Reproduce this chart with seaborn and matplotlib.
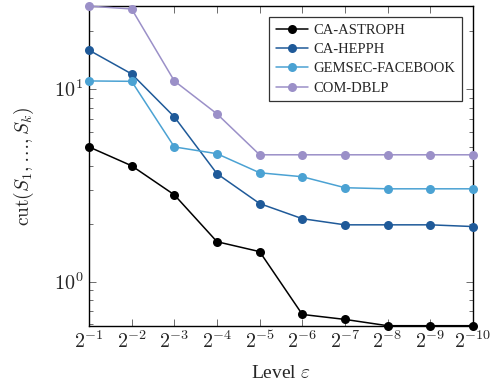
import numpy as np
import pandas as pd
import matplotlib
matplotlib.use("Agg")
import matplotlib.pyplot as plt
import seaborn as sns
from matplotlib.ticker import LogLocator, NullFormatter, FixedLocator

# data
levels = [1, 2, 3, 4, 5, 6, 7, 8, 9, 10]          # eps = 2^-k
astroph = [5.0, 3.99, 2.82, 1.61, 1.43, 0.675, 0.636, 0.59, 0.59, 0.59]
hepph = [15.9, 11.96, 7.16, 3.63, 2.54, 2.12, 1.97, 1.97, 1.97, 1.93]
facebook = [11.0, 10.95, 5.0, 4.61, 3.67, 3.50, 3.07, 3.03, 3.03, 3.03]
dblp = [26.9, 26.0, 11.0, 7.42, 4.55, 4.55, 4.55, 4.55, 4.55, 4.55]
series_names = ["CA-ASTROPH", "CA-HEPPH", "GEMSEC-FACEBOOK", "COM-DBLP"]
colors = ["#000000", "#1f5a99", "#4ba2d3", "#9b90c8"]

eps = [2.0 ** -k for k in levels]
df = pd.concat([
    pd.DataFrame({"eps": eps, "cut": vals, "graph": name})
    for name, vals in zip(series_names, [astroph, hepph, facebook, dblp])
])

sns.set_style("ticks")
plt.rcParams["font.family"] = ["Liberation Serif", "DejaVu Serif"]
plt.rcParams["mathtext.fontset"] = "cm"

fig = plt.figure(figsize=(4.9, 3.83), dpi=100)
ax = fig.add_axes([0.1816, 0.1496, 0.9653 - 0.1816, 0.984 - 0.1496])

sns.lineplot(data=df, x="eps", y="cut", hue="graph", palette=colors,
             marker="o", markersize=6.5, markeredgewidth=0, linewidth=1.1,
             ax=ax, clip_on=False, zorder=3)

ax.set_xscale("log", base=2)
ax.set_yscale("log")
ax.set_xlim(2.0 ** -1, 2.0 ** -10)
ax.set_ylim(0.59, 26.9)

# x ticks: 2^-1 ... 2^-10 (last label runs off the edge, as in the original)
ax.set_xticks(eps)
ax.set_xticklabels([r"$2^{-%d}$" % k for k in levels])
ax.xaxis.set_minor_locator(FixedLocator([]))
ax.yaxis.set_minor_locator(LogLocator(base=10, subs=np.arange(2, 10)))
ax.yaxis.set_minor_formatter(NullFormatter())
ax.set_yticks([1, 10])
ax.set_yticklabels([r"$10^{0}$", r"$10^{1}$"])

ax.tick_params(which="both", direction="in", top=True, right=True,
               labelsize=14.5, color="#555555")
ax.tick_params(which="major", length=5, width=0.6)
ax.tick_params(which="minor", length=3, width=0.6)
ax.tick_params(axis="x", pad=4)
ax.tick_params(axis="y", pad=4)
for s in ax.spines.values():
    s.set_linewidth(1.0)
    s.set_color("black")

ax.set_xlabel(r"Level $\varepsilon$", fontsize=14, labelpad=9)
ax.set_ylabel(r"$\mathrm{cut}(S_1,\ldots,S_k)$", fontsize=14, labelpad=13)

leg = ax.legend(loc="upper right", bbox_to_anchor=(0.971, 0.966),
                fontsize=10.5, frameon=True, fancybox=False, edgecolor="black",
                handlelength=2.2, handletextpad=0.4, borderpad=0.45,
                labelspacing=0.42, borderaxespad=0)
leg.get_frame().set_linewidth(0.9)

fig.savefig("out.png", dpi=100)
